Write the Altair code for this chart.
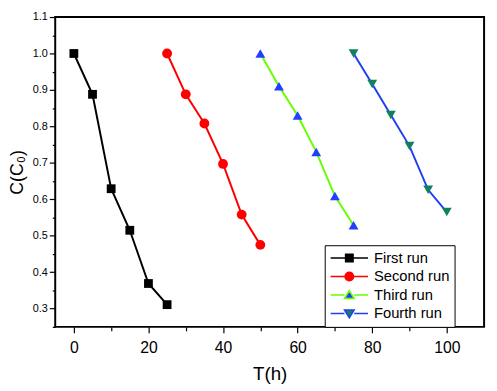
import altair as alt
import pandas as pd

runs = ["First run", "Second run", "Third run", "Fourth run"]
t_first = [0, 5, 10, 15, 20, 25]
c_first = [1.0, 0.888, 0.629, 0.515, 0.369, 0.311]
t_second = [25, 30, 35, 40, 45, 50]
c_second = [1.0, 0.888, 0.808, 0.697, 0.558, 0.475]
t_third = [50, 55, 60, 65, 70, 75]
c_third = [1.0, 0.91, 0.83, 0.73, 0.609, 0.529]
t_fourth = [75, 80, 85, 90, 95, 100]
c_fourth = [1.0, 0.916, 0.831, 0.746, 0.626, 0.565]

x_major = [0, 20, 40, 60, 80, 100]
x_minor = [10, 30, 50, 70, 90]
y_major = [0.3, 0.4, 0.5, 0.6, 0.7, 0.8, 0.9, 1.0, 1.1]
y_minor = [0.25, 0.35, 0.45, 0.55, 0.65, 0.75, 0.85, 0.95, 1.05]

line_colors = ["#000000", "#ff0000", "#66ff00", "#2040f0"]
marker_colors = ["#000000", "#ff0000", "#2040ff", "#108060"]
marker_shapes = ["square", "circle", "triangle-up", "triangle-down"]
marker_sizes = [80, 100, 100, 100]

# legend symbols: short line with the marker in its middle
legend_paths = [
    "M-1,0H-0.2M0.2,0H1M-0.2,-0.2H0.2V0.2H-0.2Z",
    "M-1,0H-0.23M0.23,0H1M-0.23,0A0.23,0.23,0,1,1,0.23,0A0.23,0.23,0,1,1,-0.23,0Z",
    "M-1,0H-0.26M0.26,0H1M0,-0.23L0.26,0.19L-0.26,0.19Z",
    "M-1,0H-0.26M0.26,0H1M0,0.23L0.26,-0.19L-0.26,-0.19Z",
]

series = [(runs[0], t_first, c_first), (runs[1], t_second, c_second),
          (runs[2], t_third, c_third), (runs[3], t_fourth, c_fourth)]
rows = []
for name, ts, cs in series:
    for t, c in zip(ts, cs):
        rows.append({"run": name, "T": t, "C": c})
df = pd.DataFrame(rows)

FONT = "Liberation Sans"
xs = alt.Scale(domain=[-5, 110], nice=False, zero=False)
ys = alt.Scale(domain=[0.25, 1.1], nice=False, zero=False)
stroke_scale = alt.Scale(domain=runs, range=line_colors)
fill_scale = alt.Scale(domain=runs, range=marker_colors)
shape_scale = alt.Scale(domain=runs, range=legend_paths)

leg = alt.Legend(
    title=None, orient="none", legendX=274, legendY=232,
    symbolSize=1444, symbolStrokeWidth=1.5, clipHeight=16, rowPadding=2.8,
    labelFontSize=15, labelFont=FONT, labelColor="black", labelOffset=5,
    padding=5, strokeColor="black", fillColor="white", cornerRadius=0,
    symbolOpacity=1,
)

base = alt.Chart(df)

lines = base.mark_line(strokeWidth=2).encode(
    x=alt.X("T:Q", scale=xs, axis=alt.Axis(
        values=x_major, tickSize=6, tickWidth=1.2, tickColor="black", grid=False, domain=False,
        labelFontSize=16, labelFont=FONT, labelColor="black", labelPadding=7,
        title="T(h)", titleFontSize=19, titleFont=FONT, titleFontWeight="normal",
        titleColor="black", titlePadding=10, orient="bottom")),
    y=alt.Y("C:Q", scale=ys, axis=alt.Axis(
        values=y_major, format=".1f", tickSize=6, tickWidth=1.2, tickColor="black", grid=False,
        domain=False, labelFontSize=11, labelFont=FONT, labelColor="black", labelPadding=2,
        title="C(C₀)", titleFontSize=18, titleFont=FONT, titleFontWeight="normal",
        titleColor="black", titlePadding=6, orient="left")),
    stroke=alt.Stroke("run:N", scale=stroke_scale, legend=leg),
    detail="run:N",
)

point_layers = []
for i, name in enumerate(runs):
    if i == 0:
        xax = alt.Axis(values=x_minor, tickSize=4, tickWidth=1.2, tickColor="black", labels=False,
                       grid=False, domain=False, title=None, orient="bottom")
        yax = alt.Axis(values=y_minor, tickSize=3, tickWidth=1.2, tickColor="black", labels=False,
                       grid=False, domain=False, title=None, orient="left")
    else:
        xax = None
        yax = None
    pl = base.transform_filter(alt.datum.run == name).mark_point(
        filled=True, opacity=1, shape=marker_shapes[i], size=marker_sizes[i]
    ).encode(
        x=alt.X("T:Q", scale=xs, axis=xax),
        y=alt.Y("C:Q", scale=ys, axis=yax),
        fill=alt.Fill("run:N", scale=fill_scale, legend=leg),
    )
    point_layers.append(pl)

legend_layer = base.transform_filter(alt.datum.T < -1000).mark_point(filled=True).encode(
    x=alt.X("T:Q", scale=xs, axis=None),
    y=alt.Y("C:Q", scale=ys, axis=None),
    shape=alt.Shape("run:N", scale=shape_scale, legend=leg),
    fill=alt.Fill("run:N", scale=fill_scale, legend=leg),
    stroke=alt.Stroke("run:N", scale=stroke_scale, legend=leg),
)

chart = alt.layer(legend_layer, lines, *point_layers).resolve_axis(
    x="independent", y="independent"
).properties(
    width=436, height=315,
    autosize=alt.AutoSizeParams(type="none"),
    padding={"left": 48, "top": 6, "right": 5, "bottom": 62},
).configure_view(
    stroke="black", strokeWidth=2
)

chart.save("out.html", embed_options={"renderer": "svg", "actions": False})
